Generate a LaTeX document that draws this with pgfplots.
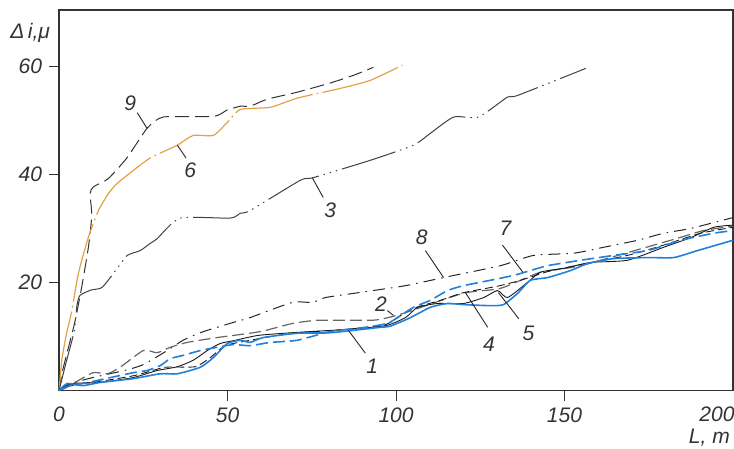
\documentclass[border=0pt]{standalone}
\usepackage{fontspec}
\setmainfont{Liberation Sans}
\usepackage{pgfplots}
\pgfplotsset{compat=1.18}

\definecolor{cblue}{RGB}{35,128,218}
\definecolor{corange}{RGB}{226,162,72}

\tikzset{
  lab/.style={font=\fontsize{10.5}{12}\selectfont\itshape, inner sep=0pt, text=black!80},
  lead/.style={black!85, line width=0.45pt},
}

\begin{document}
\begin{tikzpicture}
\useasboundingbox (-29.5pt,-29pt) rectangle (337pt,195pt);
\begin{axis}[
    at={(0,0)}, anchor=south west,
    scale only axis,
    width=336.5pt, height=190pt,
    xmin=0, xmax=200, ymin=0, ymax=70.4,
    xtick={50,100,150}, ytick={20,40,60},
    tick align=outside, major tick length=5pt,
    xtick pos=bottom, ytick pos=left,
    tick style={black!80, line width=0.5pt},
    axis line style={black!80, line width=0.6pt},
    ticklabel style={font=\fontsize{10.5}{12}\selectfont\itshape, text=black!80},
    /pgf/number format/assume math mode=true,
    every axis plot/.append style={smooth, tension=0.35},
    clip=false,
]
% 9
\addplot[black!80, line width=0.5pt, dash pattern=on 7pt off 3pt] coordinates {
 (0,0)(0.8,3.1)(2.8,8.0)(4.8,13.0)(6.7,19.1)(8.7,26.5)(9.7,32.4)(9.2,36.4)(10.2,37.7)
 (14.6,39.2)(20.2,43.1)(26.1,48.5)(30.9,50.6)(45.8,50.7)(49.9,51.9)(53.8,52.6)
 (56.7,52.6)(61.8,53.9)(70.7,55.2)(80.5,56.9)(87.3,58.3)(93.3,59.8)
};
% 6
\addplot[corange, line width=0.6pt, dash pattern=on 40pt off 2pt on 1pt off 2pt] coordinates {
 (0,0)(0.8,5.6)(2.2,10.5)(3.8,14.8)(5.7,21.6)(8.7,28.4)(11.7,33.3)(14.6,36.4)
 (17.2,38.3)(22.0,40.7)(27.0,43.0)(35.1,45.4)(39.8,47.2)(45.8,47.2)(49.9,49.6)
 (53.8,52.0)(62.7,52.4)(70.7,54.1)(83.5,55.9)(92.4,57.4)(101.9,60.2)
};
% 3
\addplot[black!75, line width=0.5pt, dash pattern=on 28pt off 2.5pt on 0.7pt off 2.5pt on 0.7pt off 2.5pt on 0.7pt off 2.5pt] coordinates {
 (0,0)(2,5)(4.5,11)(5.3,15.7)(6.2,17.6)(9.5,18.6)(12.8,19.1)(17.5,22.8)(20.2,25.0)
 (24.1,25.9)(27.0,27.2)(29.1,28.1)(35.9,31.9)(50.8,31.9)(53.8,32.8)(56.7,33.3)
 (71.6,38.9)(75.5,39.4)(92.4,42.6)(105.2,45.4)(110.2,47.6)(117.1,50.6)(124.5,50.6)
 (133.1,54.3)(136.1,54.6)(156.3,59.6)
};
% 8
\addplot[black!85, line width=0.5pt, dash pattern=on 6pt off 3pt on 0.8pt off 3pt] coordinates {
 (0,0)(3,1.2)(10,2.4)(20,3.8)(25,4.8)(32.1,7.4)(36.8,9.3)(41.9,10.7)(46.9,11.7)
 (51.7,12.6)(56.7,13.5)(69.2,16.3)(75.2,16.3)(79.0,17.2)(88.8,18.1)(102.8,19.4)
 (114.1,20.9)(131.0,23.1)(140.8,25.0)(152.7,25.4)(161.6,26.5)(171.7,27.8)
 (179.4,29.1)(187.5,30.0)(200,32.0)
};
% 2
\addplot[black!60, line width=0.6pt, dash pattern=on 6pt off 2.5pt] coordinates {
 (0,0)(4.2,1.3)(10.1,3.3)(14.3,3.1)(18.1,4.3)(25.0,7.4)(29.1,7.0)(33.0,8.0)(38.0,8.9)
 (46.9,9.8)(56.7,10.6)(61.2,11.1)(69.2,12.4)(76.9,13.0)(93.0,13.0)(97.7,13.5)
 (102.8,14.4)(120.0,18.0)(131.0,18.9)(142.9,21.9)(154.8,23.1)(181.5,27.8)
 (191.3,29.6)(200,30.4)
};
% 4
\addplot[black!90, line width=0.45pt, dash pattern=on 4pt off 2pt] coordinates {
 (0,0)(4.8,1.1)(12.2,1.7)(22.6,2.8)(31.5,4.3)(40.4,4.4)(44.9,6.1)(49.3,8.3)(56.7,9.3)
 (69.2,10.6)(85.0,11.3)(96.9,12.2)(104.3,15.0)(113.2,16.7)(120.0,18.1)(130.1,19.3)
 (137.0,20.4)(145.0,22.0)(154.8,23.3)(168.7,25.0)(179.4,26.9)(190.4,29.1)(200,30.2)
};
% 5
\addplot[black!90, line width=0.45pt] coordinates {
 (0,0)(4.2,1.3)(12.2,1.5)(22.0,2.4)(29.1,3.7)(35.1,4.4)(39.8,5.6)(44.0,7.4)(47.8,8.7)
 (52.3,9.3)(59.1,10.2)(69.2,10.7)(85.0,11.3)(96.9,12.0)(102.8,13.5)(106.4,15.4)
 (112.3,16.1)(120.0,16.1)(126,17.2)(130.1,18.5)(133.1,17.2)(139.0,20.0)(142.9,21.9)
 (149.7,22.6)(157.8,23.7)(168.7,24.1)(179.4,26.5)(187.5,28.3)(194.3,30.2)(200,30.6)
};
% 7
\addplot[cblue, line width=0.8pt, dash pattern=on 6pt off 2.5pt] coordinates {
 (0,0)(3.3,0.9)(7.1,1.3)(22.0,3.3)(26.1,3.7)(30.0,4.6)(33.0,5.9)(36.8,6.5)(41.9,7.4)
 (46.9,8.0)(51.7,8.5)(56.7,8.3)(62.7,8.9)(70.7,9.3)(80.5,10.9)(90.9,11.7)(97.4,12.4)
 (100.4,13.5)(105.2,15.4)(110.2,16.7)(115.3,18.5)(120.0,19.4)(128.0,20.4)(134.9,21.3)
 (139.9,22.2)(145.0,23.1)(154.8,24.1)(164.6,25.0)(174.7,25.9)(184.5,27.8)(194.3,29.1)
 (200,29.6)
};
% 1
\addplot[cblue, line width=0.8pt] coordinates {
 (0,0)(2.4,1.3)(7.1,0.9)(12.2,1.5)(22.0,2.2)(30.0,3.1)(35.1,3.1)(41.9,4.3)(45.8,6.1)
 (49.9,8.7)(53.8,9.3)(56.7,8.9)(60.6,9.8)(70.7,10.6)(80.5,10.7)(95.4,11.7)(98.3,11.9)
 (104.3,13.5)(110.2,15.4)(115.3,16.1)(120.0,15.9)(128.0,15.7)(131.9,15.9)(136.1,18.0)
 (139.9,20.4)(145.0,20.9)(151.8,22.2)(156.9,23.5)(164.6,24.4)(174.7,24.6)(182.4,24.6)
 (189.5,25.9)(200,27.8)
};

% curve numbers and leaders
\draw[lead] (axis cs:23.2,51.4) -- (axis cs:26.1,48.5);
\node[lab] at (axis cs:21.1,53.1) {9};
\draw[lead] (axis cs:35.1,45.4) -- (axis cs:37.7,43.0);
\node[lab] at (axis cs:38.9,40.7) {6};
\draw[lead] (axis cs:75.2,39.3) -- (axis cs:78.4,35.7);
\node[lab] at (axis cs:80.5,33.3) {3};
\draw[lead] (axis cs:108.7,25.9) -- (axis cs:114.1,20.9);
\node[lab] at (axis cs:107.6,28.3) {8};
\draw[lead] (axis cs:131.6,26.9) -- (axis cs:137.6,21.9);
\node[lab] at (axis cs:132.5,30.0) {7};
\draw[lead] (axis cs:97.4,14.8) -- (axis cs:99.2,13.9);
\node[lab] at (axis cs:95.5,16.0) {2};
\draw[lead] (axis cs:127.2,11.7) -- (axis cs:120.6,18.1);
\node[lab] at (axis cs:127.6,8.6) {4};
\draw[lead] (axis cs:136.4,13.3) -- (axis cs:130.4,18.1);
\node[lab] at (axis cs:139.3,10.6) {5};
\draw[lead] (axis cs:90.9,6.9) -- (axis cs:85.9,11.1);
\node[lab] at (axis cs:92.9,4.4) {1};

% axis titles and end tick labels
\node[lab] at (axis cs:-8.6,66.1) {Δ\,i,μ};
\node[lab] at (axis cs:0,0) [yshift=-12pt] {0};
\node[lab] at (axis cs:200,0) [xshift=-8pt, yshift=-12pt] {200};
\node[lab] at (axis cs:193,0) [yshift=-23.5pt] {L, m};
\end{axis}
\end{tikzpicture}
\end{document}
